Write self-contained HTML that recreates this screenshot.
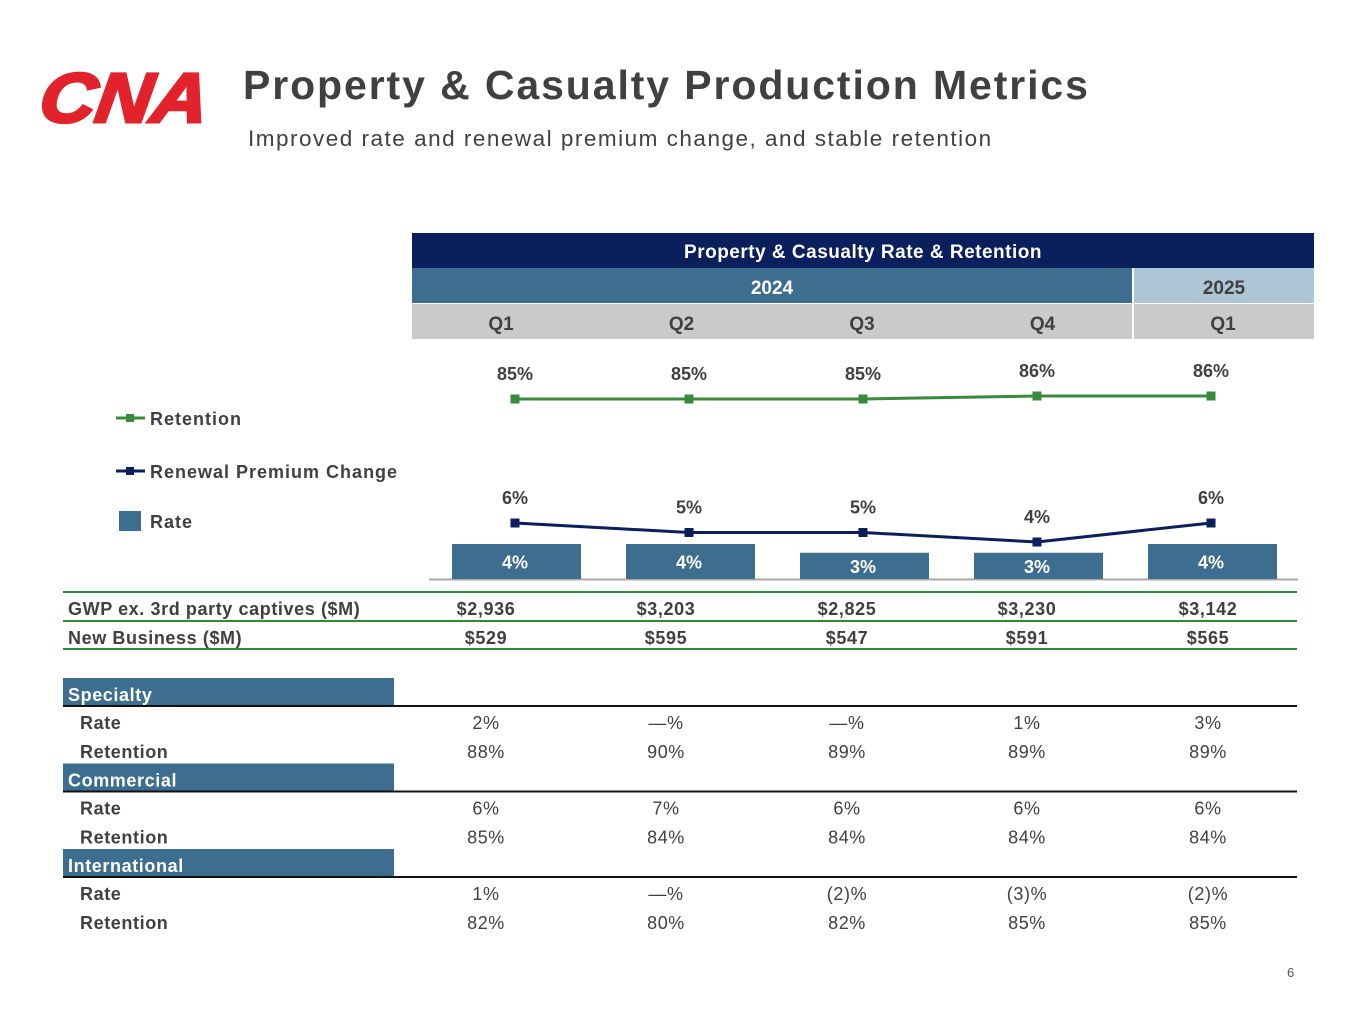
<!DOCTYPE html>
<html><head><meta charset="utf-8"><style>
body{margin:0;background:#fff;font-family:"Liberation Sans",sans-serif;}
#p{position:relative;width:1365px;height:1024px;overflow:hidden;}
.a{position:absolute;}
.c{position:absolute;text-align:center;transform:translateX(-50%);white-space:nowrap;}
.b{font-weight:bold;}
</style></head><body>
<div id="p">
<svg class="a" style="left:30px;top:60px" width="190" height="70"><text x="8" y="62" font-family="Liberation Sans" font-weight="bold" font-style="italic" font-size="70" fill="#e3232c" stroke="#e3232c" stroke-width="3" textLength="168" lengthAdjust="spacingAndGlyphs" transform="skewX(-8) translate(8,0)">CNA</text></svg>
<div class="a b" style="left:243px;top:62px;font-size:41px;letter-spacing:1.9px;color:#404040;white-space:nowrap">Property &amp; Casualty Production Metrics</div>
<div class="a" style="left:248px;top:126px;font-size:22.5px;letter-spacing:1.5px;color:#404040;white-space:nowrap">Improved rate and renewal premium change, and stable retention</div>

<div class="a b" style="left:412px;top:233px;width:902px;height:35px;background:#0a1f5c;color:#fff;font-size:19px;letter-spacing:0.5px;line-height:40px;text-align:center">Property &amp; Casualty Rate &amp; Retention</div>
<div class="a b" style="left:412px;top:268px;width:720px;height:35px;background:#3d6d8f;color:#fff;font-size:19px;line-height:42px;text-align:center">2024</div>
<div class="a b" style="left:1134px;top:268px;width:180px;height:35px;background:#adc6d6;color:#404040;font-size:19px;line-height:42px;text-align:center">2025</div>
<div class="a" style="left:412px;top:304px;width:720px;height:35px;background:#cacaca"></div>
<div class="a" style="left:1134px;top:304px;width:180px;height:35px;background:#cacaca"></div>
<div id="qs"></div>

<svg class="a" style="left:0;top:0" width="1365" height="1024" id="chart"></svg>

<div class="a" style="left:1287px;top:965px;font-size:13px;color:#555">6</div>
</div>
<script>
const categories=["Q1","Q2","Q3","Q4","Q1"];
const rateValues=[4,4,3,3,4];
const rateHeights=[4,4,3,3,4];
const rpcValues=[6,5,5,4,6];
const retentionValues=[85,85,85,86,86];
const gwp=["$2,936","$3,203","$2,825","$3,230","$3,142"];
const newBiz=["$529","$595","$547","$591","$565"];
const sections=[
 {name:"Specialty",rate:["2%","—%","—%","1%","3%"],ret:["88%","90%","89%","89%","89%"]},
 {name:"Commercial",rate:["6%","7%","6%","6%","6%"],ret:["85%","84%","84%","84%","84%"]},
 {name:"International",rate:["1%","—%","(2)%","(3)%","(2)%"],ret:["82%","80%","82%","85%","85%"]}
];
const NS="http://www.w3.org/2000/svg";
const svg=document.getElementById('chart');
const xC=i=>515+i*174;
const yBar=v=>v*8.75;
const yRpc=v=>580-v*9.5;
const yRet=v=>399-(v-85)*3;
function mk(t,a){const e=document.createElementNS(NS,t);for(const k in a)e.setAttribute(k,a[k]);svg.appendChild(e);return e;}
function txt(x,y,s,fill,size,anchor,ls){const e=mk('text',{x:x,y:y,fill:fill,'font-size':size,'font-weight':'bold','text-anchor':anchor||'middle','font-family':'Liberation Sans','letter-spacing':ls||0});e.textContent=s;return e;}
const qs=document.getElementById('qs');
categories.forEach((c,i)=>{const d=document.createElement('div');d.className='c b';d.style.left=(501+i*180.5)+'px';d.style.top='314px';d.style.fontSize='19px';d.style.color='#404040';d.textContent=c;

qs.appendChild(d);});
let ax=mk('line',{x1:429,y1:579.5,x2:1298,y2:579.5,stroke:'#aaa','stroke-width':2});


rateValues.forEach((v,i)=>{const h=yBar(rateHeights[i]);const r=mk('rect',{x:xC(i)-63,y:579-h,width:129,height:h,fill:'#3d6d8f'});


const t=txt(xC(i),579-h/2+7,v+'%','#fff',18);

});
function series(vals,yf,color,name){
 const pts=vals.map((v,i)=>xC(i)+','+yf(v)).join(' ');
 const l=mk('polyline',{points:pts,fill:'none',stroke:color,'stroke-width':3});
 
 
 vals.forEach((v,i)=>{const m=mk('rect',{x:xC(i)-4.5,y:yf(v)-4.5,width:9,height:9,fill:color});
 
 
 const t=txt(xC(i),yf(v)-19,v+'%','#404040',18);
 
 });
}
series(retentionValues,yRet,'#3a8a3e','retention');
series(rpcValues,yRpc,'#0a1f5c','rpc');
function leg(y,color,label,type){
 if(type==='line'){mk('line',{x1:116,y1:y,x2:145,y2:y,stroke:color,'stroke-width':3});mk('rect',{x:126,y:y-4,width:8,height:8,fill:color});}
 else mk('rect',{x:119,y:y-10,width:22,height:20,fill:color});
 const t=txt(150,y+7,label,'#404040',18,'start',1);
 
 
}
leg(418,'#3a8a3e','Retention','line');
leg(471,'#0a1f5c','Renewal Premium Change','line');
leg(521,'#3d6d8f','Rate','box');
const colX=[486,666,847,1027,1208];
function hline(y,c,w){const l=mk('line',{x1:63,y1:y,x2:1297,y2:y,stroke:c,'stroke-width':w});

}
hline(592,'#2e8b2e',2);hline(621,'#2e8b2e',2);hline(649,'#2e8b2e',2);
function row(y,label,vals,bold,indent){
 const t=txt(indent?80:68,y,label,'#404040',18,'start',0.6);
 
 
 vals.forEach((v,i)=>{const e=txt(colX[i],y,v,'#404040',18,'middle',0.6);if(!bold)e.setAttribute('font-weight','normal');
 
 });
}
row(615,'GWP ex. 3rd party captives ($M)',gwp,true,false);
row(644,'New Business ($M)',newBiz,true,false);
sections.forEach((s,k)=>{
 const top=678+k*85.5;
 const r=mk('rect',{x:63,y:top,width:331,height:28,fill:'#3d6d8f'});
 
 
 const t=txt(68,top+23,s.name,'#fff',18,'start',0.6);
 
 
 hline(top+28,'#111',2);
 row(top+51,'Rate',s.rate,false,true);
 row(top+80,'Retention',s.ret,false,true);
});
</script>
</body></html>
